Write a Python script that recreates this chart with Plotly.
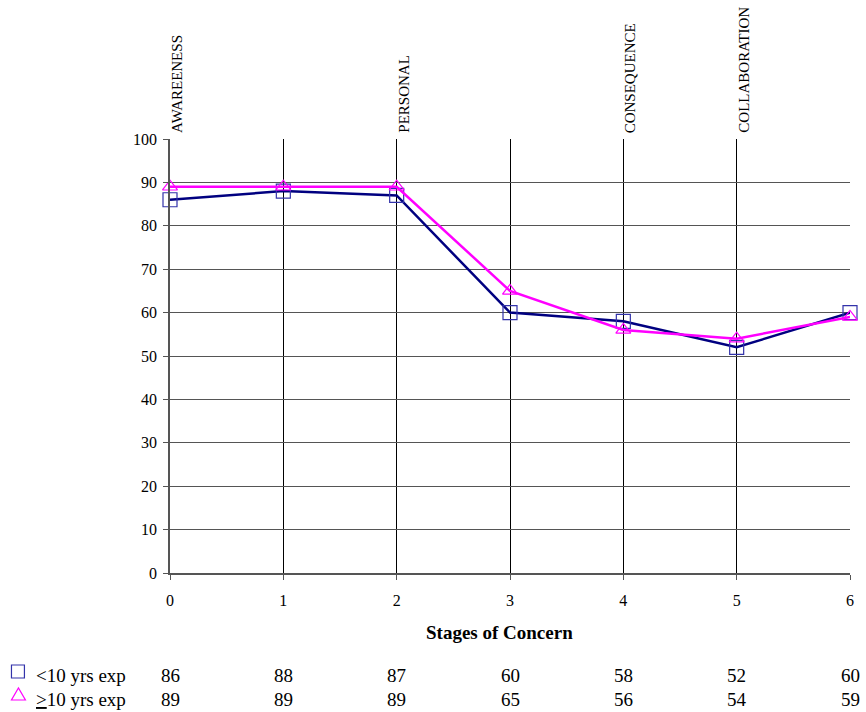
import plotly.graph_objects as go

# Stages of Concern profile, two experience groups
stages = [0, 1, 2, 3, 4, 5, 6]
stage_names = {0: "AWAREENESS", 2: "PERSONAL", 4: "CONSEQUENCE", 5: "COLLABORATION"}
under_10 = [86, 88, 87, 60, 58, 52, 60]
over_10 = [89, 89, 89, 65, 56, 54, 59]
y_ticks = [0, 10, 20, 30, 40, 50, 60, 70, 80, 90, 100]

W, H = 866, 712
L, R, T, B = 170, 14, 139, 139
PW, PH = W - L - R, H - T - B

def py(px_y):
    """Convert a pixel row to paper y."""
    return (H - B - px_y) / PH

def px(px_x):
    """Convert a pixel column to paper x."""
    return (px_x - L) / PW

FONT = "Liberation Serif"
NAVY = "#000080"
MAG = "#FF00FF"
TABLE_SIZE = 19

fig = go.Figure()
fig.add_trace(go.Scatter(
    x=stages, y=under_10, mode="lines+markers", name="<10 yrs exp",
    line=dict(color=NAVY, width=2.5),
    marker=dict(symbol="square-open", size=14, color="#3333AA", line=dict(width=1.2)),
    cliponaxis=False,
))
fig.add_trace(go.Scatter(
    x=stages, y=over_10, mode="lines+markers", name="≥10 yrs exp",
    line=dict(color=MAG, width=2.5),
    marker=dict(symbol="triangle-up-open", size=13, color=MAG, line=dict(width=1.2)),
    cliponaxis=False,
))

annotations = []
# Stage names written vertically above the plot
for s, name in stage_names.items():
    annotations.append(dict(
        x=s, y=1, xref="x", yref="paper", text=name, textangle=-90,
        showarrow=False, xanchor="left", yanchor="bottom", xshift=-3, yshift=4,
        font=dict(family=FONT, size=15, color="black"),
    ))

# Axis title
annotations.append(dict(
    x=px(500), y=py(632), xref="paper", yref="paper",
    text="<b>Stages of Concern</b>", showarrow=False,
    xanchor="center", yanchor="middle",
    font=dict(family=FONT, size=19, color="black"),
))

# Data table below the axis
rows = [(under_10, 675), (over_10, 699)]
for values, row_y in rows:
    for s, v in zip(stages, values):
        annotations.append(dict(
            x=s, y=py(row_y), xref="x", yref="paper", text=str(v),
            showarrow=False, xanchor="center", yanchor="middle",
            font=dict(family=FONT, size=TABLE_SIZE, color="black"),
        ))

annotations.append(dict(
    x=px(34), y=py(675), xref="paper", yref="paper", text="&lt;10 yrs exp",
    showarrow=False, xanchor="left", yanchor="middle",
    font=dict(family=FONT, size=TABLE_SIZE, color="black"),
))
annotations.append(dict(
    x=px(34), y=py(699), xref="paper", yref="paper",
    text="<span style='text-decoration:underline'>&gt;</span>10 yrs exp",
    showarrow=False, xanchor="left", yanchor="middle",
    font=dict(family=FONT, size=TABLE_SIZE, color="black"),
))

shapes = [
    # legend keys for the table rows
    dict(type="rect", xref="paper", yref="paper",
         x0=px(11), x1=px(24), y0=py(678), y1=py(665),
         line=dict(color="#3333AA", width=1.2)),
    dict(type="path", xref="paper", yref="paper",
         path=f"M {px(11)} {py(700)} L {px(25)} {py(700)} L {px(18)} {py(688)} Z",
         line=dict(color=MAG, width=1.2)),
]

fig.update_layout(
    width=W, height=H,
    margin=dict(l=L, r=R, t=T, b=B, pad=0),
    paper_bgcolor="white", plot_bgcolor="white",
    showlegend=False,
    font=dict(family=FONT, size=15, color="black"),
    xaxis=dict(
        range=[0, 6], tickvals=stages, ticktext=[str(s) for s in stages],
        showgrid=True, gridcolor="black", gridwidth=1,
        zeroline=False, showline=True, linecolor="#555555", linewidth=2,
        ticks="outside", ticklen=5, tickcolor="#555555",
        ticklabelstandoff=7,
        tickfont=dict(family=FONT, size=16),
    ),
    yaxis=dict(
        range=[0, 100], tickvals=y_ticks,
        showgrid=True, gridcolor="#555555", gridwidth=1,
        zeroline=False, showline=True, linecolor="#555555", linewidth=1.5,
        ticks="outside", ticklen=5, tickcolor="#555555",
        ticklabelstandoff=3,
        tickfont=dict(family=FONT, size=16),
    ),
    annotations=annotations,
    shapes=shapes,
)

fig.write_html("out.html")
